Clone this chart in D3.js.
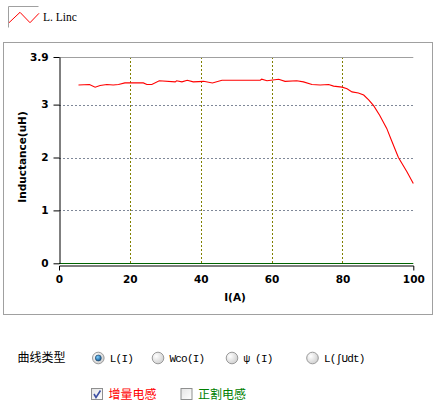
<!DOCTYPE html>
<html>
<head>
<meta charset="utf-8">
<script src="https://cdn.jsdelivr.net/npm/d3@7"></script>
<style>
  body { margin: 0; background: #fff; }
  svg { display: block; }
</style>
</head>
<body>
<svg id="chart" width="443" height="408"></svg>
<script>
// current (A) and incremental inductance (uH)
var current = [5.5, 8.6, 10.2, 11.6, 13.5, 15.3, 16.8, 18.6, 23.8, 24.8, 26.2, 28.3, 32.8, 33.2, 34.7, 36.2, 37.9, 40.8, 43.3, 46.0,
  50.2, 56.8, 57.2, 58.7, 62.0, 63.8, 67.1, 69.0, 71.4, 73.7, 76.1, 77.5, 79.9, 81.3, 82.7, 84.5, 86.0, 87.4, 88.8, 90.5,
  92.5, 93.8, 95.8, 98.2, 100];
var inductance = [3.37, 3.38, 3.33, 3.36, 3.38, 3.37, 3.38, 3.41, 3.41, 3.38, 3.38, 3.45, 3.43, 3.45, 3.43, 3.46, 3.43, 3.44, 3.41, 3.46,
  3.46, 3.46, 3.48, 3.45, 3.48, 3.44, 3.45, 3.43, 3.38, 3.37, 3.38, 3.35, 3.33, 3.30, 3.24, 3.22, 3.18, 3.09, 2.98, 2.80,
  2.55, 2.33, 2.0, 1.73, 1.51];
var xTicks = [0, 20, 40, 60, 80, 100];
var yTicks = [0, 1, 2, 3, 3.9];
var legendLabel = "L. Linc";
var curveTypes = ["L(I)", "Wco(I)", "\u03c8 (I)", "L(\u222bUdt)"];
var curveChecks = ["增量电感", "正割电感"];

var svg = d3.select('#chart');
var defs = svg.append('defs');

var rg = defs.append('radialGradient').attr('id', 'radioFill').attr('cx', '35%').attr('cy', '35%').attr('r', '70%');
rg.append('stop').attr('offset', '0%').attr('stop-color', '#ffffff');
rg.append('stop').attr('offset', '100%').attr('stop-color', '#cfcfcf');
var dg = defs.append('radialGradient').attr('id', 'dotFill').attr('cx', '40%').attr('cy', '35%').attr('r', '70%');
dg.append('stop').attr('offset', '0%').attr('stop-color', '#7fd0ff');
dg.append('stop').attr('offset', '100%').attr('stop-color', '#0a4d8a');
var cg = defs.append('linearGradient').attr('id', 'boxFill').attr('x1', 0).attr('y1', 0).attr('x2', 1).attr('y2', 1);
cg.append('stop').attr('offset', '0%').attr('stop-color', '#e4e4e4');
cg.append('stop').attr('offset', '100%').attr('stop-color', '#ffffff');

// legend
svg.append('path')
    .attr('d', 'M8.5,27.5V6.5H38.5')
    .attr('fill', 'none')
    .attr('stroke', '#a0a0a0');
svg.append('path')
    .attr('d', 'M9,22.7L20,12.3L30,22.7L39,13.3')
    .attr('fill', 'none')
    .attr('stroke', 'red');
svg.append('text')
    .attr('x', 43)
    .attr('y', 20.5)
    .style('font-family', '"Liberation Serif", serif')
    .style('font-size', '11.5px')
    .text(legendLabel);

// chart frame
svg.append('rect')
    .attr('x', 3.5).attr('y', 42.5)
    .attr('width', 429).attr('height', 272)
    .attr('fill', 'none')
    .attr('stroke', '#a0a0a0');

var x = d3.scaleLinear().domain([0, 100]).range([59, 413.3]);
var y = d3.scaleLinear().domain([0, 3.9]).range([263.3, 57]);

// grid
svg.append('g').selectAll('line')
    .data(yTicks.filter(function(d) { return d > 0 && d < 3.9; }))
    .enter().append('line')
    .attr('x1', x(0)).attr('x2', x(100))
    .attr('y1', function(d) { return Math.round(y(d)) + 0.5; })
    .attr('y2', function(d) { return Math.round(y(d)) + 0.5; })
    .attr('stroke', '#7f8898')
    .attr('stroke-dasharray', '2,2');

svg.append('g').selectAll('line')
    .data(xTicks.filter(function(d) { return d > 0 && d < 100; }))
    .enter().append('line')
    .attr('x1', function(d) { return Math.round(x(d)) + 0.5; })
    .attr('x2', function(d) { return Math.round(x(d)) + 0.5; })
    .attr('y1', y(3.9)).attr('y2', y(0))
    .attr('stroke', '#808000')
    .attr('stroke-dasharray', '2,2');

// top border of plot
svg.append('line')
    .attr('x1', x(0)).attr('x2', x(100))
    .attr('y1', 57.5).attr('y2', 57.5)
    .attr('stroke', '#a0a0a0');

// zero line
svg.append('line')
    .attr('x1', x(0)).attr('x2', x(100))
    .attr('y1', 263.5).attr('y2', 263.5)
    .attr('stroke', '#006400')
    .attr('stroke-width', 1.2);

var tickFont = function(sel) {
  sel.selectAll('text')
      .style('font-family', '"DejaVu Sans", sans-serif')
      .style('font-size', '10.5px')
      .style('font-weight', 'bold')
      .attr('fill', '#000');
  sel.selectAll('path, line').attr('stroke', '#000');
};

// y axis
svg.append('g')
    .attr('transform', 'translate(59.5,0)')
    .call(d3.axisLeft(y).tickValues(yTicks).tickSize(6).tickSizeOuter(0)
        .tickFormat(function(d) { return d === 3.9 ? '3.9' : d3.format('d')(d); }))
    .call(tickFont)
    .call(function(g) { g.selectAll('text').attr('x', -11); });

// x axis
svg.append('g')
    .attr('transform', 'translate(0,265.5)')
    .call(d3.axisBottom(x).tickValues(xTicks).tickSizeInner(0).tickSizeOuter(5).tickPadding(10))
    .call(tickFont);

svg.append('text')
    .attr('x', 235).attr('y', 301)
    .attr('text-anchor', 'middle')
    .style('font-family', '"DejaVu Sans", sans-serif')
    .style('font-size', '10.5px')
    .style('font-weight', 'bold')
    .text('I(A)');

svg.append('text')
    .attr('transform', 'translate(25.5,157) rotate(-90)')
    .attr('text-anchor', 'middle')
    .style('font-family', '"DejaVu Sans", sans-serif')
    .style('font-size', '10.5px')
    .style('font-weight', 'bold')
    .text('Inductance(uH)');

// curve
var pts = current.map(function(c, i) { return [c, inductance[i]]; });
svg.append('path')
    .datum(pts)
    .attr('fill', 'none')
    .attr('stroke', 'red')
    .attr('stroke-width', 1.1)
    .attr('d', d3.line().x(function(d) { return x(d[0]); }).y(function(d) { return y(d[1]); }));

// controls
svg.append('text')
    .attr('x', 17.5).attr('y', 361.5)
    .style('font-family', '"Noto Sans CJK SC", sans-serif')
    .style('font-size', '12px')
    .text('曲线类型');

var radioX = [98.3, 158, 232, 312.5];
var radio = svg.append('g').selectAll('g')
    .data(curveTypes)
    .enter().append('g')
    .attr('transform', function(d, i) { return 'translate(' + radioX[i] + ',358)'; });
radio.append('circle')
    .attr('r', 5.8)
    .attr('fill', 'url(#radioFill)')
    .attr('stroke', '#9a9a9a');
radio.filter(function(d, i) { return i === 0; }).append('circle')
    .attr('r', 3)
    .attr('fill', 'url(#dotFill)')
    .attr('stroke', '#1b3d5c')
    .attr('stroke-width', 0.6);
radio.append('text')
    .attr('x', 11.5).attr('y', 4.2)
    .style('font-family', '"Liberation Mono", monospace')
    .style('font-size', '11px')
    .style('letter-spacing', '-0.8px')
    .text(function(d) { return d; });

var checkX = [91, 180.5];
var checkColor = ['#ff0000', '#008000'];
var check = svg.append('g').selectAll('g')
    .data(curveChecks)
    .enter().append('g')
    .attr('transform', function(d, i) { return 'translate(' + checkX[i] + ',388)'; });
check.append('rect')
    .attr('x', 0.5).attr('y', 0.5)
    .attr('width', 11).attr('height', 11)
    .attr('fill', 'url(#boxFill)')
    .attr('stroke', '#8e8f8f');
check.filter(function(d, i) { return i === 0; }).append('path')
    .attr('d', 'M3,6L5,9.5L9.5,2.5')
    .attr('fill', 'none')
    .attr('stroke', '#3c4fa3')
    .attr('stroke-width', 1.6);
check.append('text')
    .attr('x', 17.5).attr('y', 10.5)
    .attr('fill', function(d, i) { return checkColor[i]; })
    .style('font-family', '"Noto Sans CJK SC", sans-serif')
    .style('font-size', '12px')
    .text(function(d) { return d; });
</script>
</body>
</html>
